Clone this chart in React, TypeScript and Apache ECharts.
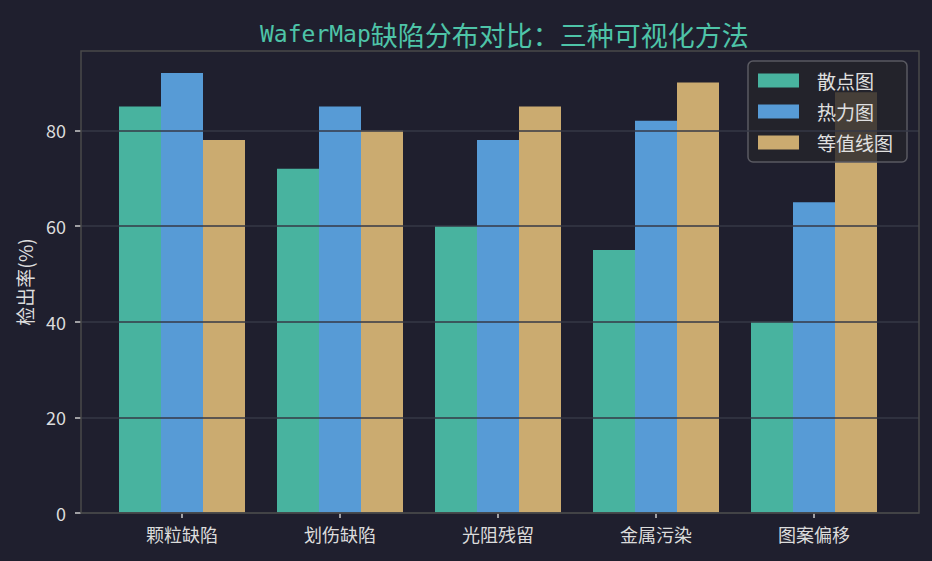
import React, { useEffect, useRef } from "react";
import * as echarts from "echarts";

const categories = ["颗粒缺陷", "划伤缺陷", "光阻残留", "金属污染", "图案偏移"];
const seriesNames = ["散点图", "热力图", "等值线图"];
const scatterValues = [85, 72, 60, 55, 40];
const heatmapValues = [92, 85, 78, 82, 65];
const contourValues = [78, 80, 85, 90, 88];
const yTickMax = 80;
const yTickStep = 20;
const colors = ["#48b39f", "#579bd6", "#cbab70"];

export default function App() {
  const ref = useRef<HTMLDivElement>(null);
  useEffect(() => {
    document.body.style.margin = "0";
    const chart = echarts.init(ref.current!, undefined, { renderer: "svg" });
    const yMax = 96.6;
    const W = 932, H = 561;
    const frame = { left: 81, right: 919, top: 51, bottom: 513 };
    const pxPerUnit = (frame.bottom - frame.top) / yMax;
    const tickGridTop = frame.bottom - yTickMax * pxPerUnit;
    const band = 158;
    const barW = 42;
    const barLeft = 103;
    const allVals = [scatterValues, heatmapValues, contourValues];
    const cjk = "'Noto Sans CJK SC', 'DejaVu Sans', sans-serif";
    chart.setOption({
      animation: false,
      backgroundColor: "#1f1f2e",
      title: {
        text: "{a|WaferMap}{b|缺陷分布对比：三种可视化方法}",
        left: 255,
        top: 14,
        textStyle: {
          fontWeight: "normal",
          rich: {
            a: { fontFamily: "'DejaVu Sans Mono', monospace", fontSize: 23, fontWeight: "normal", color: "#4ec4a8", lineHeight: 30 },
            b: { fontFamily: cjk, fontSize: 27, fontWeight: "normal", color: "#4ec4a8", lineHeight: 30 },
          },
        },
      },
      legend: {
        data: seriesNames,
        orient: "vertical",
        right: W - 907,
        top: 61,
        align: "left",
        icon: "rect",
        itemWidth: 41,
        itemHeight: 14,
        itemGap: 12,
        padding: [10, 14, 10, 10],
        backgroundColor: "rgba(36,36,42,0.8)",
        borderColor: "#5a5a62",
        borderWidth: 1.5,
        borderRadius: 5,
        textStyle: { color: "#e0e0e0", fontSize: 19, fontFamily: cjk, padding: [0, 0, 0, 13] },
      },
      grid: [
        { left: frame.left, right: W - frame.right, top: tickGridTop, bottom: H - frame.bottom, show: false },
        { left: barLeft, width: band * categories.length, top: frame.top, bottom: H - frame.bottom, show: false },
      ],
      xAxis: [
        { type: "value", gridIndex: 0, min: 0, max: 1, show: false },
        {
          type: "category",
          gridIndex: 1,
          data: categories,
          axisLine: { show: false },
          axisTick: { show: true, alignWithLabel: true, length: 5, lineStyle: { color: "#cccccc", width: 1.5 } },
          axisLabel: { color: "#dcdcdc", fontSize: 18, fontFamily: cjk, margin: 12 },
        },
      ],
      yAxis: [
        {
          type: "value",
          gridIndex: 0,
          min: 0,
          max: yTickMax,
          interval: yTickStep,
          z: 5,
          axisLine: { show: false },
          axisTick: { show: true, length: 6, lineStyle: { color: "#cccccc", width: 1.5 } },
          axisLabel: { color: "#dcdcdc", fontSize: 18, fontFamily: cjk, margin: 15 },
          splitLine: { show: true, lineStyle: { color: "#363846", width: 1.5 } },
        },
        {
          type: "value",
          gridIndex: 1,
          min: 0,
          max: yMax,
          axisLine: { show: false },
          axisTick: { show: false },
          axisLabel: { show: false },
          splitLine: { show: false },
          name: "检出率(%)",
          nameLocation: "middle",
          nameGap: 47 + (barLeft - frame.left),
          nameTextStyle: { color: "#dcdcdc", fontSize: 19, fontFamily: cjk },
        },
      ],
      graphic: [
        {
          type: "rect",
          z: 100,
          silent: true,
          shape: { x: frame.left, y: frame.top, width: frame.right - frame.left, height: frame.bottom - frame.top },
          style: { fill: "none", stroke: "#4a4a4a", lineWidth: 1.5 },
        },
      ],
      series: seriesNames.map((name, i) => ({
        name,
        type: "bar",
        xAxisIndex: 1,
        yAxisIndex: 1,
        data: allVals[i],
        barWidth: barW,
        barGap: "0%",
        itemStyle: { color: colors[i] },
        z: 2,
      })),
    });
    return () => chart.dispose();
  }, []);
  return <div ref={ref} style={{ width: 932, height: 561 }} />;
}
